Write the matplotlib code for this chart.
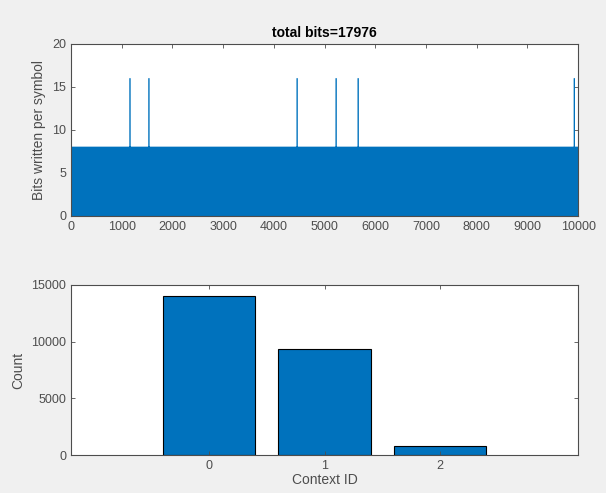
import matplotlib.pyplot as plt
import numpy as np

plt.rcParams['font.family'] = ['Liberation Sans', 'DejaVu Sans']

# bits written for each symbol: a short repeating run of per-symbol costs,
# plus the few symbols that needed two bytes
n_symbols = 10000
bit_run = [8, 0, 1, 0, 0]
escape_idx = [1164, 1538, 4458, 5227, 5661, 9921]
escape_bits = 16

bits = np.array(bit_run * (n_symbols // len(bit_run)), dtype=float)
bits[escape_idx] = escape_bits
idx = np.arange(1, n_symbols + 1)

# how often each context was used
context_ids = [0, 1, 2]
context_counts = [14000, 9350, 800]

blue = '#0072BD'
grey = '#4D4D4D'

fig = plt.figure(figsize=(6.06, 4.93), dpi=100, facecolor='#F0F0F0')
ax1 = fig.add_axes([0.117, 0.562, 0.837, 0.349])
ax2 = fig.add_axes([0.117, 0.077, 0.837, 0.345])

ax1.plot(idx, bits, color=blue, linewidth=0.5)
ax1.set_xlim(0, 10000)
ax1.set_ylim(0, 20)
ax1.set_xticks(range(0, 10001, 1000))
ax1.set_yticks(range(0, 21, 5))
ax1.set_ylabel('Bits written per symbol', color=grey, fontsize=10)
ax1.set_title('total bits=17976', fontsize=10, fontweight='bold', color='black', pad=5)

ax2.bar(context_ids, context_counts, width=0.8, color=blue, edgecolor='black', linewidth=0.8)
ax2.set_xlim(-1.2, 3.2)
ax2.set_ylim(0, 15000)
ax2.set_xticks(context_ids)
ax2.set_yticks(range(0, 15001, 5000))
ax2.set_xlabel('Context ID', color=grey, fontsize=10, labelpad=1)
ax2.set_ylabel('Count', color=grey, fontsize=10)

for ax in (ax1, ax2):
    ax.tick_params(direction='in', length=3, width=0.6, colors=grey, labelsize=9,
                   top=True, right=True)
    for s in ax.spines.values():
        s.set_color(grey)
        s.set_linewidth(0.8)

fig.savefig('out.png', dpi=100, facecolor=fig.get_facecolor())
